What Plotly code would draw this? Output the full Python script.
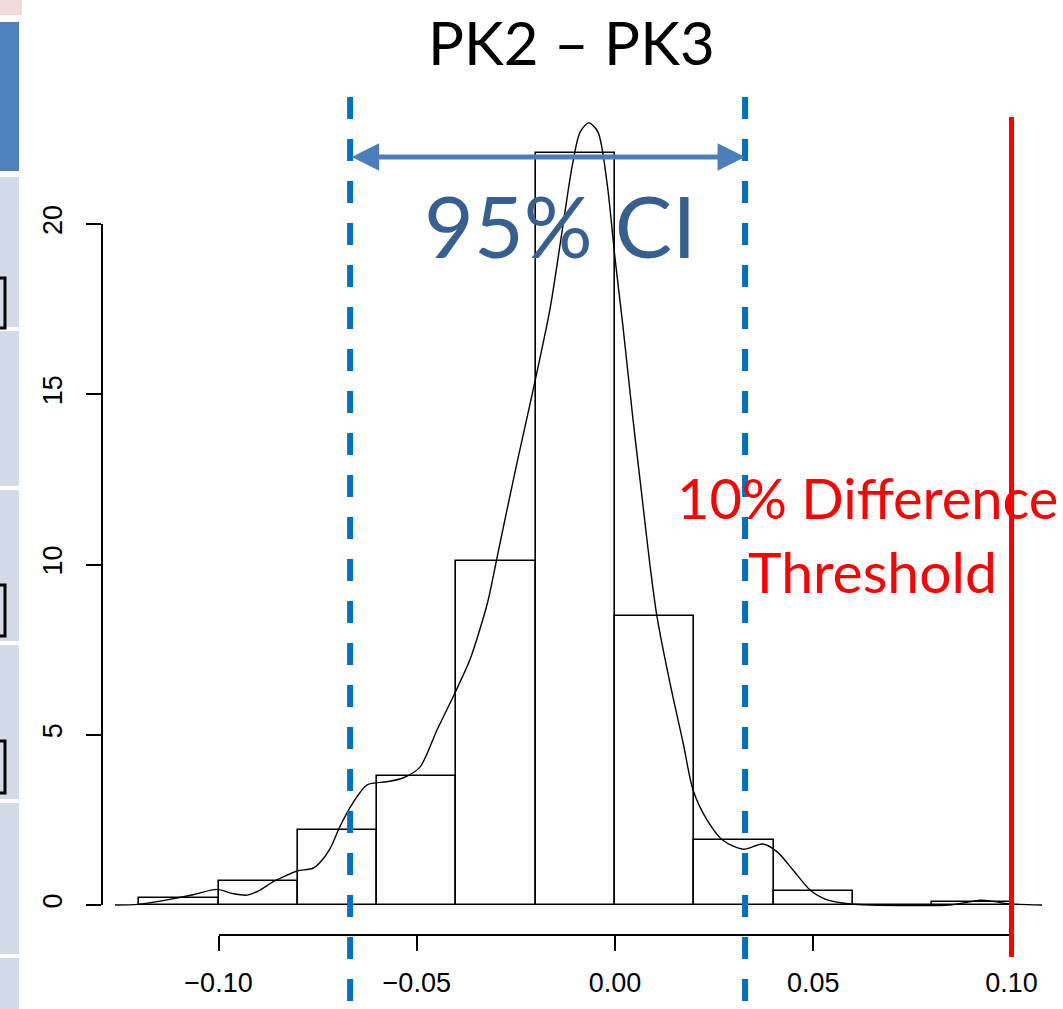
import plotly.graph_objects as go

W, H = 1063, 1009

# ---------------- data ----------------
title_text = "PK2 \u2013 PK3"
bin_left = [-0.12, -0.10, -0.08, -0.06, -0.04, -0.02, 0.00, 0.02, 0.04, 0.06, 0.08]
bin_width = 0.02
bin_density = [0.2, 0.7, 2.2, 3.8, 10.1, 22.1, 8.5, 1.9, 0.4, 0.0, 0.1]

dens_x = [-0.1261, -0.1203, -0.1130, -0.1064, -0.1004, -0.0966, -0.0928, -0.0895,
          -0.0863, -0.0832, -0.0802, -0.0762, -0.0744, -0.0719, -0.0694, -0.0661,
          -0.0625, -0.0575, -0.0535, -0.0492, -0.0449, -0.0404, -0.0366, -0.0333,
          -0.0320, -0.0290, -0.0247, -0.0207, -0.0164, -0.0134, -0.0108, -0.0088,
          -0.0066, -0.0043, -0.0020, 0.0000, 0.0020, 0.0045, 0.0068, 0.0088,
          0.0106, 0.0139, 0.0172, 0.0197, 0.0232, 0.0272, 0.0323, 0.0373,
          0.0409, 0.0449, 0.0492, 0.0535, 0.0593, 0.0643, 0.0845, 0.0883,
          0.0921, 0.0958, 0.0989, 0.1021, 0.1077]
dens_y = [0.00, 0.02, 0.15, 0.30, 0.46, 0.34, 0.29, 0.44,
          0.68, 0.85, 1.00, 1.08, 1.25, 1.65, 2.30, 3.00,
          3.53, 3.62, 3.73, 4.05, 5.14, 6.22, 7.20, 8.40,
          8.95, 10.63, 13.00, 15.10, 17.50, 19.74, 21.70, 22.70,
          22.97, 22.70, 21.20, 19.00, 17.00, 14.30, 12.00, 10.00,
          8.46, 6.50, 4.75, 3.37, 2.50, 1.90, 1.64, 1.79,
          1.56, 1.03, 0.44, 0.15, 0.03, 0.00, 0.00, 0.07,
          0.14, 0.10, 0.04, 0.02, 0.00]

ci_low, ci_high = -0.0668, 0.0328
threshold = 0.10
x_ticks = [-0.10, -0.05, 0.00, 0.05, 0.10]
y_ticks = [0, 5, 10, 15, 20]
ci_label = "95% CI"
threshold_lines = ["10% Difference", "Threshold"]

# ---------------- layout helpers ----------------
x_range = [-0.15511, 0.11299]
y_range = [-3.054, 26.579]


def fx(v):
    return (v - x_range[0]) / (x_range[1] - x_range[0])


def fy(v):
    return (v - y_range[0]) / (y_range[1] - y_range[0])


def px(p):
    return p / W


def py(p):
    return 1 - p / H


fig = go.Figure()

fig.add_trace(go.Bar(
    x=[l + bin_width / 2 for l in bin_left], y=bin_density, width=bin_width,
    marker=dict(color="white", line=dict(color="black", width=1.6)),
    showlegend=False, hoverinfo="skip"))

fig.add_trace(go.Scatter(
    x=dens_x, y=dens_y, mode="lines",
    line=dict(color="black", width=1.4, shape="spline", smoothing=0.8),
    showlegend=False, hoverinfo="skip"))

# carrier trace for the R-style detached axes
fig.add_trace(go.Scatter(x=[], y=[], xaxis="x2", yaxis="y2",
                         showlegend=False, hoverinfo="skip"))

shapes = []
# slide artefacts on the left edge
shapes.append(dict(type="rect", xref="paper", yref="paper", x0=px(0), x1=px(22),
                   y0=py(0), y1=py(15), fillcolor="#F2DCDB", line=dict(width=0), layer="below"))
shapes.append(dict(type="rect", xref="paper", yref="paper", x0=px(0), x1=px(19),
                   y0=py(22), y1=py(171), fillcolor="#4F81BD", line=dict(width=0), layer="below"))
for a, b in [(177, 327), (331, 486), (490, 641), (645, 799), (803, 954), (958, 1009)]:
    shapes.append(dict(type="rect", xref="paper", yref="paper", x0=px(0), x1=px(19),
                       y0=py(a), y1=py(b), fillcolor="#D3DAE8", line=dict(width=0), layer="below"))
for a, b in [(278, 328), (585, 636), (741, 793)]:
    shapes.append(dict(type="rect", xref="paper", yref="paper", x0=px(-12), x1=px(5),
                       y0=py(a), y1=py(b), fillcolor="rgba(0,0,0,0)",
                       line=dict(color="black", width=3)))

# CI dashed lines
for v in (ci_low, ci_high):
    shapes.append(dict(type="line", xref="x", yref="y", x0=v, x1=v, y0=23.73, y1=y_range[0] - 0.5,
                       line=dict(color="#0070C0", width=6, dash="22px,20px")))
# threshold line
shapes.append(dict(type="line", xref="x", yref="y", x0=threshold, x1=threshold, y0=23.14, y1=-1.53,
                   line=dict(color="#FF0000", width=5)))

annotations = [
    dict(x=ci_high, y=21.97, ax=ci_low, ay=21.97, xref="x", yref="y", axref="x", ayref="y",
         text="", showarrow=True, arrowhead=2, arrowside="end+start", arrowsize=1.1,
         arrowwidth=5, arrowcolor="#4A7EBB", standoff=0, startstandoff=0),
    dict(x=px(571), y=py(42), xref="paper", yref="paper", text=title_text, showarrow=False,
         xanchor="center", yanchor="middle", font=dict(family="Lato", size=60, color="black")),
    dict(x=px(560), y=py(224), xref="paper", yref="paper", text=ci_label, showarrow=False,
         xanchor="center", yanchor="middle", font=dict(family="Lato", size=86, color="#376092")),
    dict(x=px(675), y=py(497), xref="paper", yref="paper", text=threshold_lines[0], showarrow=False,
         xanchor="left", yanchor="middle", font=dict(family="Lato", size=56, color="#FF0000")),
    dict(x=px(872), y=py(571), xref="paper", yref="paper", text=threshold_lines[1], showarrow=False,
         xanchor="center", yanchor="middle", font=dict(family="Lato", size=57, color="#FF0000")),
]

tick_font = dict(family="Liberation Sans", size=27, color="black")

fig.update_layout(
    width=W, height=H, autosize=False,
    margin=dict(l=0, r=0, t=0, b=0, pad=0, autoexpand=False),
    paper_bgcolor="white", plot_bgcolor="rgba(0,0,0,0)",
    barmode="overlay", bargap=0,
    xaxis=dict(range=x_range, domain=[0, 1], visible=False, fixedrange=True),
    yaxis=dict(range=y_range, domain=[0, 1], visible=False, fixedrange=True),
    xaxis2=dict(range=[x_ticks[0], x_ticks[-1]], domain=[fx(x_ticks[0]), fx(x_ticks[-1])],
                anchor="free", position=py(935), showline=True, linecolor="black", linewidth=1.8,
                ticks="outside", ticklen=15, tickwidth=1.8, tickcolor="black",
                tickvals=x_ticks, tickformat=".2f", tickfont=tick_font,
                showgrid=False, zeroline=False, ticklabelstandoff=9, fixedrange=True),
    yaxis2=dict(range=[y_ticks[0], y_ticks[-1]], domain=[fy(y_ticks[0]), fy(y_ticks[-1])],
                anchor="free", position=px(102), side="left", showline=True, linecolor="black",
                linewidth=1.8, ticks="outside", ticklen=15, tickwidth=1.8, tickcolor="black",
                tickvals=y_ticks, tickangle=-90, tickfont=tick_font,
                showgrid=False, zeroline=False, ticklabelstandoff=13, fixedrange=True),
    shapes=shapes,
    annotations=annotations,
    showlegend=False,
)

fig.write_html("out.html", config={"displayModeBar": False})
